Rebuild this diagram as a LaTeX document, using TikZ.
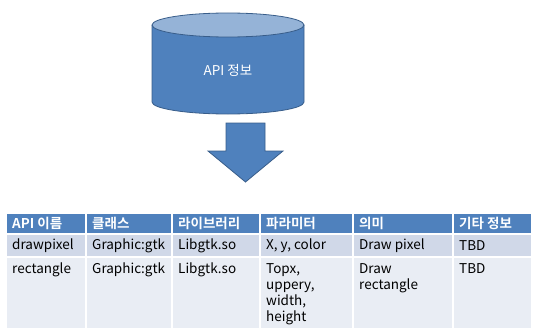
\documentclass[tikz,border=0pt]{standalone}
\usepackage{fontspec}
\setmainfont{Noto Sans CJK KR}[BoldFont={Noto Sans CJK KR Bold}]
\definecolor{hdblue}{HTML}{4F81BD}
\definecolor{rimblue}{HTML}{385D8A}
\definecolor{capblue}{HTML}{95B3D7}
\definecolor{rowa}{HTML}{D0D8E8}
\definecolor{rowb}{HTML}{E9EDF4}

\begin{document}
\begin{tikzpicture}[x=1pt,y=-1pt,font=\fontsize{13.5}{16}\selectfont,
    cellbg/.style={fill=#1,draw=white,line width=1.5pt},
    hd/.style={anchor=west,text=white,font=\fontsize{13.5}{16}\selectfont\bfseries,inner sep=0pt},
    td/.style={anchor=west,inner sep=0pt},
    tdtop/.style={anchor=north west,inner sep=0pt,align=left}]
    \useasboundingbox (0,0) rectangle (534,329);

    % cylinder
    \path[fill=hdblue,draw=rimblue,thick] (152,25) -- (152,102) arc (180:0:76 and 12) -- (304,25);
    \path[fill=capblue,draw=rimblue,thick] (228,25) ellipse (76 and 12);
    \node[text=white] (info) at (228,70) {API 정보};

    % arrow
    \path[fill=hdblue,draw=rimblue,thick] (226,123) coordinate (arrtop) -- (265,123) -- (265,151)
        -- (283,151) -- (245.5,182) coordinate (arrtip) -- (208,151) -- (226,151) -- cycle;

    % table
    \foreach \xa/\xb in {6/86,86/172,172/260,260/353,353/453,453/532} {
        \path[cellbg=hdblue] (\xa,213) rectangle (\xb,234);
        \path[cellbg=rowa] (\xa,234) rectangle (\xb,257);
        \path[cellbg=rowb] (\xa,257) rectangle (\xb,329);
    }

    \node[hd] (h1) at (12,223.5) {API 이름};
    \node[hd] (h2) at (92,223.5) {클래스};
    \node[hd] (h3) at (178,223.5) {라이브러리};
    \node[hd] (h4) at (266,223.5) {파라미터};
    \node[hd] (h5) at (359,223.5) {의미};
    \node[hd] (h6) at (459,223.5) {기타 정보};

    \node[td] (a1) at (12,245.5) {drawpixel};
    \node[td] (a2) at (92,245.5) {Graphic:gtk};
    \node[td] (a3) at (178,245.5) {Libgtk.so};
    \node[td] (a4) at (266,245.5) {X, y, color};
    \node[td] (a5) at (359,245.5) {Draw pixel};
    \node[td] (a6) at (459,245.5) {TBD};

    \node[tdtop] (b1) at (12,263) {rectangle};
    \node[tdtop] (b2) at (92,263) {Graphic:gtk};
    \node[tdtop] (b3) at (178,263) {Libgtk.so};
    \node[tdtop] (b4) at (266,263) {Topx,\\uppery,\\width,\\height};
    \node[tdtop] (b5) at (359,263) {Draw\\rectangle};
    \node[tdtop] (b6) at (459,263) {TBD};
\end{tikzpicture}
\end{document}
